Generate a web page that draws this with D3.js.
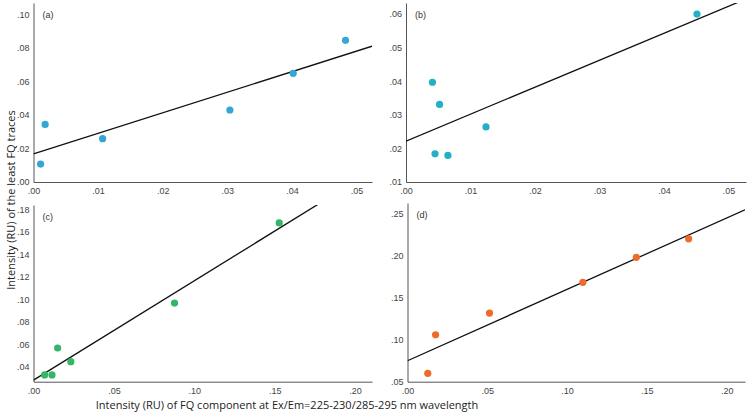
<!DOCTYPE html>
<html>
<head>
<meta charset="utf-8">
<script src="https://cdn.jsdelivr.net/npm/d3@7"></script>
<style>
  body { margin: 0; background: #fff; }
  svg { display: block; }
</style>
</head>
<body>
<svg id="chart" width="750" height="414"></svg>
<script>
// panel (a)
const aX = [0.0011, 0.0018, 0.0107, 0.0304, 0.0402, 0.0483];
const aY = [0.0107, 0.0344, 0.0259, 0.0430, 0.0649, 0.0846];
const aTicksX = [0, 0.01, 0.02, 0.03, 0.04, 0.05];
const aTicksY = [0, 0.02, 0.04, 0.06, 0.08, 0.10];

// panel (b)
const bX = [0.0041, 0.0052, 0.0124, 0.0045, 0.0065, 0.0451];
const bY = [0.0397, 0.0331, 0.0264, 0.0184, 0.0179, 0.0600];
const bTicksX = [0, 0.01, 0.02, 0.03, 0.04, 0.05];
const bTicksY = [0.01, 0.02, 0.03, 0.04, 0.05, 0.06];

// panel (c)
const cX = [0.0069, 0.0115, 0.0150, 0.0232, 0.0877, 0.1528];
const cY = [0.0327, 0.0327, 0.0567, 0.0445, 0.0967, 0.1680];
const cTicksX = [0, 0.05, 0.10, 0.15, 0.20];
const cTicksY = [0.04, 0.06, 0.08, 0.10, 0.12, 0.14, 0.16, 0.18];

// panel (d)
const dX = [0.0127, 0.0176, 0.0514, 0.1099, 0.1434, 0.1762];
const dY = [0.0600, 0.1059, 0.1318, 0.1684, 0.1983, 0.2203];
const dTicksX = [0, 0.05, 0.10, 0.15, 0.20];
const dTicksY = [0.05, 0.10, 0.15, 0.20, 0.25];

const panels = [
  { label: "(a)", xs: aX, ys: aY, tx: aTicksX, ty: aTicksY, color: "#33a6d3",
    xDom: [0, 0.0524], yDom: [0, 0.1069], box: [33.5, 372, 3, 182] },
  { label: "(b)", xs: bX, ys: bY, tx: bTicksX, ty: bTicksY, color: "#22b1c4",
    xDom: [0, 0.0527], yDom: [0.01, 0.0633], box: [406, 746, 3, 182] },
  { label: "(c)", xs: cX, ys: cY, tx: cTicksX, ty: cTicksY, color: "#35b568",
    xDom: [0, 0.2105], yDom: [0.0267, 0.184], box: [33.5, 372, 205, 381.7] },
  { label: "(d)", xs: dX, ys: dY, tx: dTicksX, ty: dTicksY, color: "#ef6b2c",
    xDom: [0, 0.2115], yDom: [0.05, 0.263], box: [407.5, 745, 203, 381.7] }
];

const svg = d3.select("#chart");
const fmt = function (v) { return d3.format(".2f")(v).replace(/^0/, ""); };

// least squares fit
function fit(xs, ys) {
  const mx = d3.mean(xs), my = d3.mean(ys);
  let sxy = 0, sxx = 0;
  for (let i = 0; i < xs.length; i++) {
    sxy += (xs[i] - mx) * (ys[i] - my);
    sxx += (xs[i] - mx) * (xs[i] - mx);
  }
  const slope = sxy / sxx;
  return { slope: slope, intercept: my - slope * mx };
}

panels.forEach(function (p, i) {
  const [l, r, t, b] = p.box;
  const x = d3.scaleLinear().domain(p.xDom).range([l, r]);
  const y = d3.scaleLinear().domain(p.yDom).range([b, t]);

  const g = svg.append("g");

  // x axis
  const xAxis = d3.axisBottom(x).tickValues(p.tx).tickFormat(fmt).tickSize(0).tickPadding(6);
  const gx = g.append("g").attr("transform", "translate(0," + b + ")").call(xAxis);
  gx.select(".domain").attr("stroke", "#555");
  gx.selectAll("text")
    .attr("font-family", "Liberation Sans, Arial, sans-serif")
    .attr("font-size", 9).attr("fill", "#444");

  // y axis
  const yAxis = d3.axisLeft(y).tickValues(p.ty).tickFormat(fmt).tickSize(0).tickPadding(4);
  const gy = g.append("g").attr("transform", "translate(" + l + ",0)").call(yAxis);
  gy.select(".domain").attr("stroke", "#555");
  gy.selectAll("text")
    .attr("font-family", "Liberation Sans, Arial, sans-serif")
    .attr("font-size", 9).attr("fill", "#444");

  // clip for fit line
  svg.append("clipPath").attr("id", "clip" + i)
    .append("rect").attr("x", l).attr("y", t).attr("width", r - l).attr("height", b - t);

  const f = fit(p.xs, p.ys);
  const lineData = p.xDom.map(function (v) { return { x: v, y: f.intercept + f.slope * v }; });
  const line = d3.line()
    .x(function (d) { return x(d.x); })
    .y(function (d) { return y(d.y); });

  g.append("path")
    .datum(lineData)
    .attr("clip-path", "url(#clip" + i + ")")
    .attr("fill", "none")
    .attr("stroke", "#111")
    .attr("stroke-width", 1.3)
    .attr("d", line);

  g.selectAll("circle")
    .data(d3.range(p.xs.length))
    .enter()
    .append("circle")
    .attr("cx", function (k) { return x(p.xs[k]); })
    .attr("cy", function (k) { return y(p.ys[k]); })
    .attr("r", 3.6)
    .attr("fill", p.color);

  g.append("text")
    .attr("x", l + 9)
    .attr("y", t + 15)
    .attr("font-family", "Liberation Sans, Arial, sans-serif")
    .attr("font-size", 9)
    .attr("fill", "#333")
    .text(p.label);
});

// axis titles
svg.append("text")
  .attr("transform", "translate(15,200) rotate(-90)")
  .attr("text-anchor", "middle")
  .attr("font-family", "Open Sans, sans-serif")
  .attr("font-size", 11)
  .attr("fill", "#222")
  .text("Intensity (RU) of the least FQ traces");

svg.append("text")
  .attr("x", 287)
  .attr("y", 409)
  .attr("text-anchor", "middle")
  .attr("font-family", "Open Sans, sans-serif")
  .attr("font-size", 11)
  .attr("fill", "#222")
  .text("Intensity (RU) of FQ component at Ex/Em=225-230/285-295 nm wavelength");
</script>
</body>
</html>
